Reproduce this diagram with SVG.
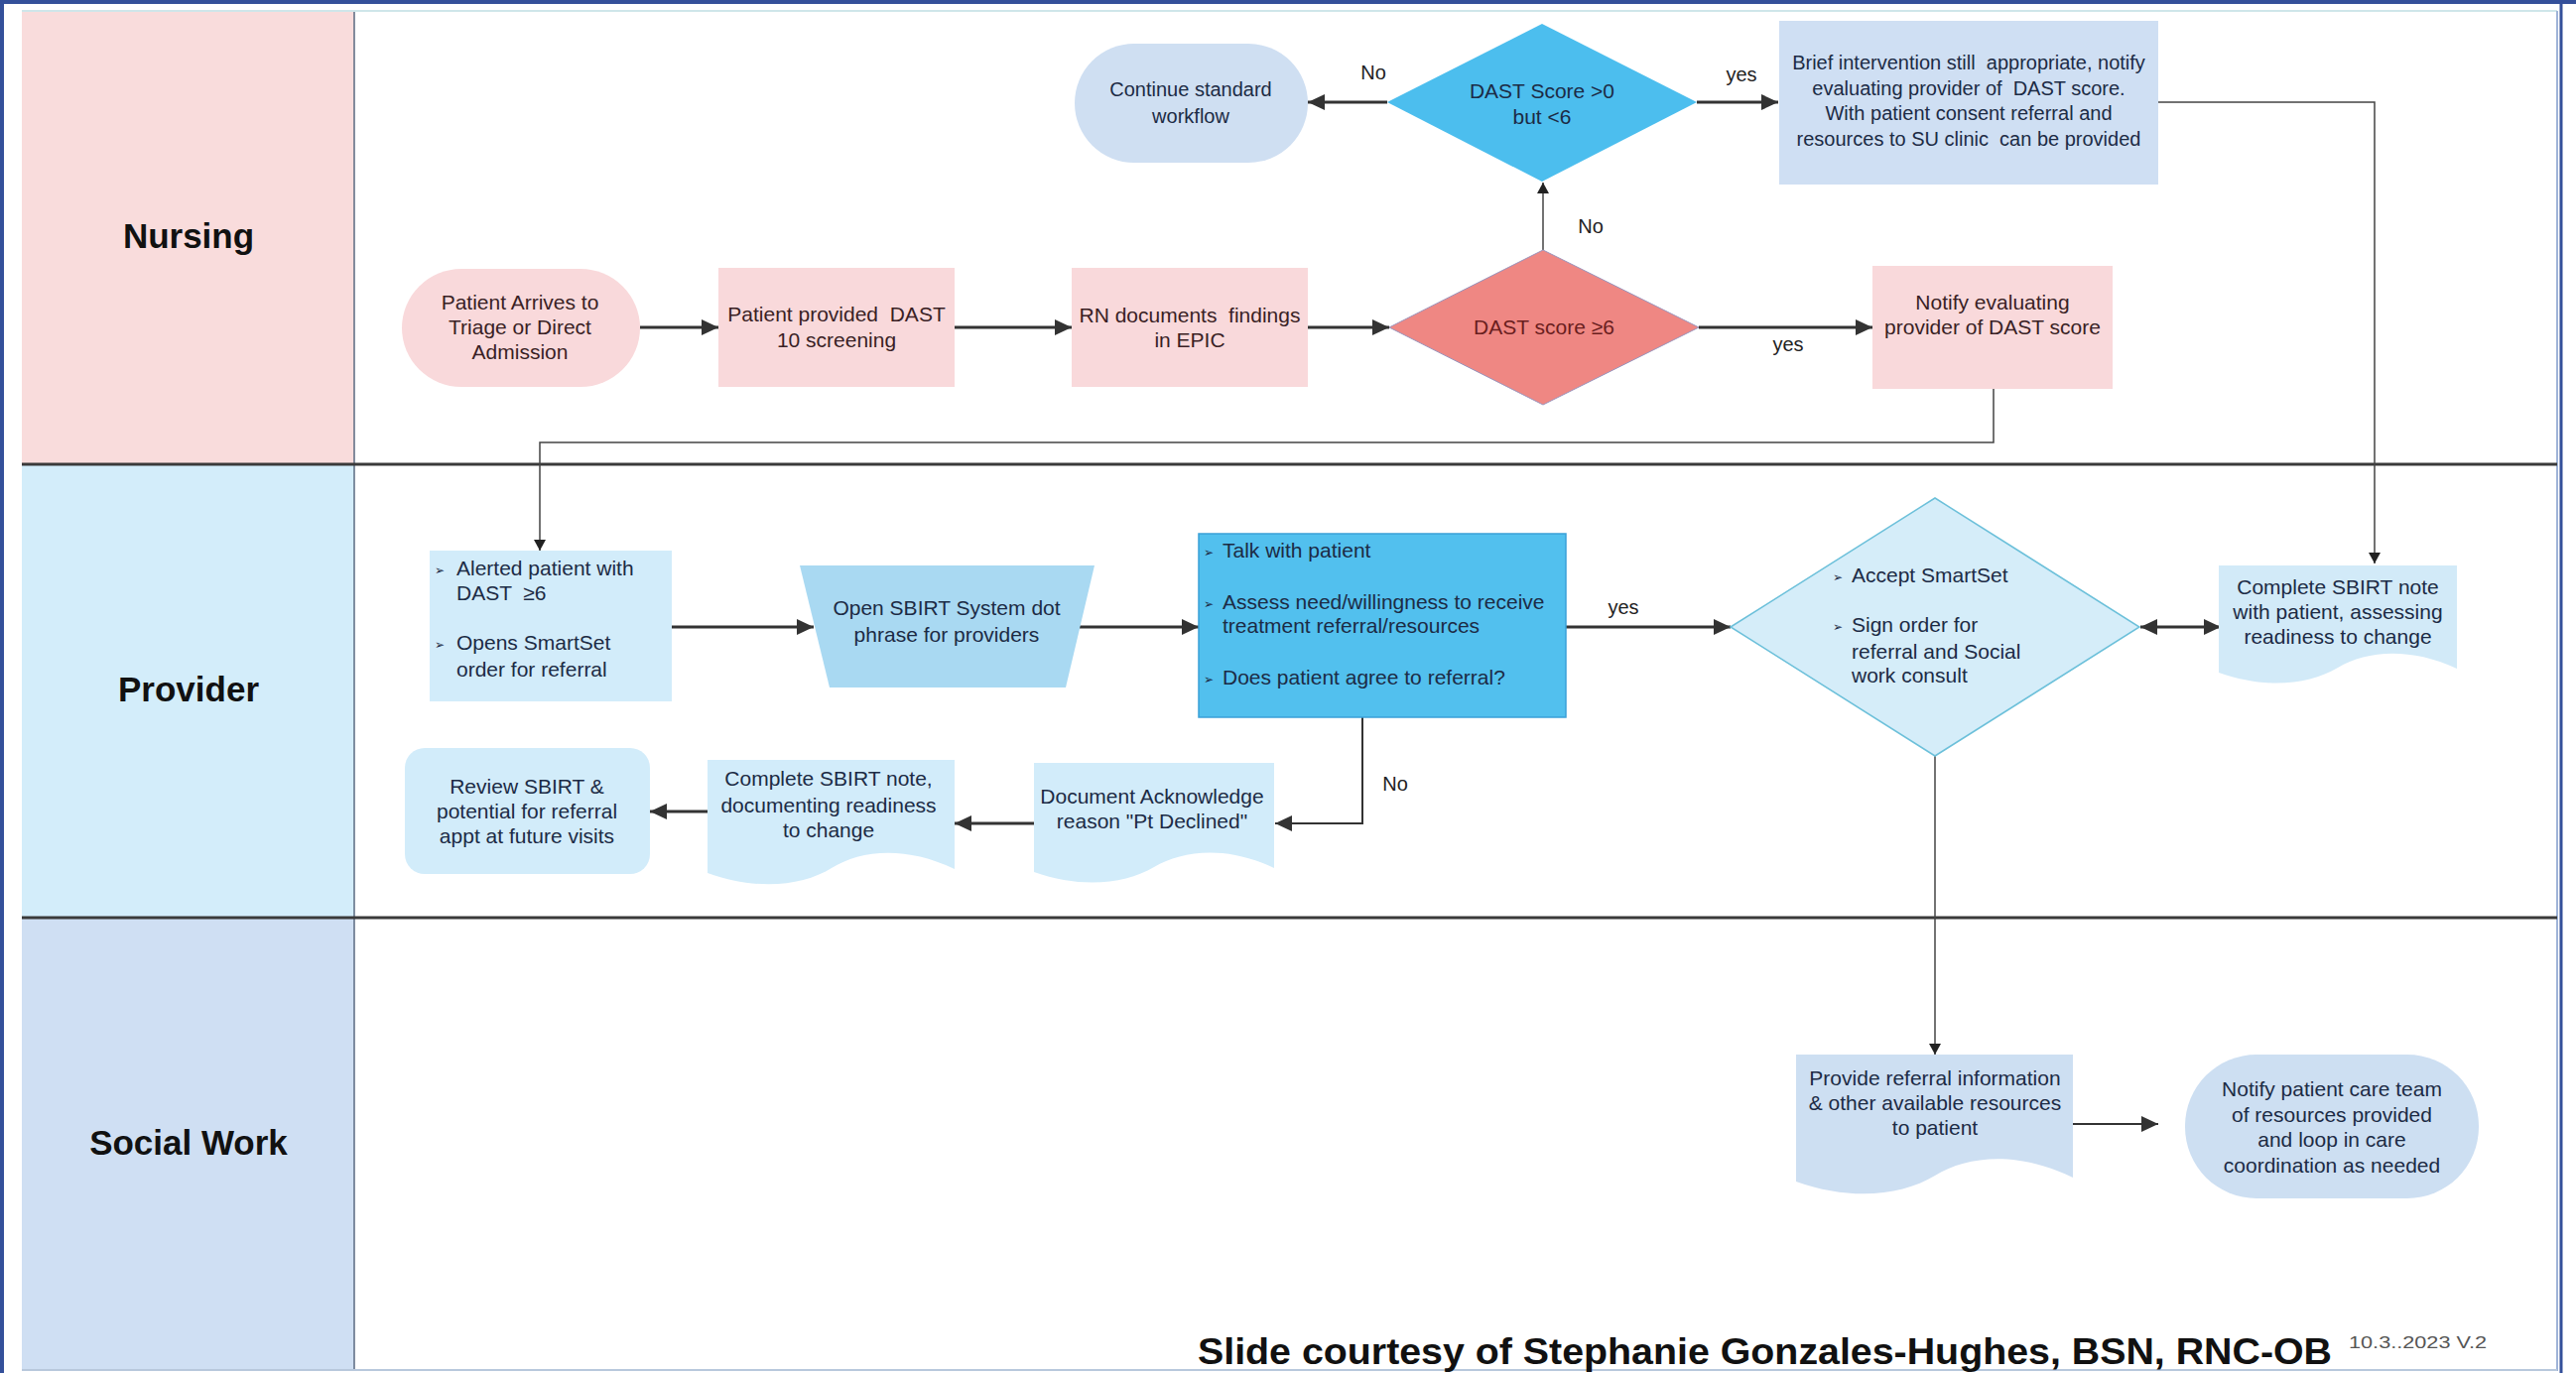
<svg xmlns="http://www.w3.org/2000/svg" width="2596" height="1384" viewBox="0 0 2596 1384">
<style>
text{font-family:"Liberation Sans",Arial,sans-serif;white-space:pre}
.lane{font-size:35px;font-weight:bold;fill:#111;text-anchor:middle}
.t{font-size:21px;fill:#1c2b45;text-anchor:middle}
.tl{font-size:21px;fill:#1c2b45}
.tp{font-size:21px;fill:#3a1f25;text-anchor:middle}
.tb{font-size:20px;fill:#1c2b45;text-anchor:middle}
.bul{font-family:"DejaVu Sans",sans-serif;font-size:12px;fill:#1c2b45}
.lbl{font-size:20px;fill:#222;text-anchor:middle}
.pink{fill:#f9d9db}
.blue{fill:#d2ecfa}
.sw{fill:#cddff2}
.c{fill:none;stroke:#333;stroke-width:3}
.cn{fill:none;stroke:#444;stroke-width:1.5}
</style>
<defs>
<marker id="ah" markerUnits="userSpaceOnUse" markerWidth="18" markerHeight="16" refX="17" refY="8" orient="auto-start-reverse"><path d="M0,0 L17,8 L0,16 Z" fill="#333"/></marker>
<marker id="ahs" markerUnits="userSpaceOnUse" markerWidth="12" markerHeight="16" refX="11" refY="6" orient="auto"><path d="M0,0 L11,6 L0,12 Z" fill="#222"/></marker>
</defs>
<rect x="0" y="0" width="2596" height="1384" fill="#fff"/>
<g id="frame">
<rect x="22" y="11" width="335" height="457" fill="#f9dcdc"/>
<rect x="22" y="468" width="335" height="457" fill="#d3edfa"/>
<rect x="22" y="925" width="335" height="457" fill="#cfdff3"/>
<line x1="357" y1="11" x2="357" y2="1382" stroke="#5a6a80" stroke-width="1.5"/>
<line x1="22" y1="11" x2="2577" y2="11" stroke="#cfe6ea" stroke-width="2"/>
<line x1="2577" y1="11" x2="2577" y2="1382" stroke="#9fb4d8" stroke-width="2"/>
<line x1="22" y1="1381" x2="2577" y2="1381" stroke="#b8c8dc" stroke-width="2"/>
<line x1="22" y1="468" x2="2577" y2="468" stroke="#3a3a3a" stroke-width="3"/>
<line x1="22" y1="925" x2="2577" y2="925" stroke="#3a3a3a" stroke-width="3"/>
<line x1="2" y1="0" x2="2" y2="1384" stroke="#34509a" stroke-width="4"/>
<line x1="0" y1="2" x2="2596" y2="2" stroke="#34509a" stroke-width="4"/>
<line x1="2581" y1="0" x2="2581" y2="1384" stroke="#34509a" stroke-width="3"/>
<text class="lane" x="190" y="250">Nursing</text>
<text class="lane" x="190" y="707">Provider</text>
<text class="lane" x="190" y="1164">Social Work</text>
</g>
<g id="connectors">
<path class="c" d="M645,330 H724" marker-end="url(#ah)"/>
<path class="c" d="M962,330 H1080" marker-end="url(#ah)"/>
<path class="c" d="M1318,330 H1400" marker-end="url(#ah)"/>
<path class="c" d="M1712,330 H1887" marker-end="url(#ah)"/>
<path class="cn" d="M1555,252 V184" marker-end="url(#ahs)"/>
<path class="c" d="M1398,103 H1318" marker-end="url(#ah)"/>
<path class="c" d="M1710,103 H1792" marker-end="url(#ah)"/>
<path class="cn" d="M2175,103 H2393 V568" marker-end="url(#ahs)"/>
<path class="cn" d="M2009,392 V446 H544 V555" marker-end="url(#ahs)"/>
<path class="c" d="M677,632 H820" marker-end="url(#ah)"/>
<path class="c" d="M1088,632 H1208" marker-end="url(#ah)"/>
<path class="c" d="M1578,632 H1744" marker-end="url(#ah)"/>
<path class="c" d="M2157,632 H2238" marker-start="url(#ah)" marker-end="url(#ah)"/>
<path class="c" d="M1373,723 V830 H1285" marker-end="url(#ah)" style="stroke-width:2"/>
<path class="c" d="M1042,830 H962" marker-end="url(#ah)"/>
<path class="c" d="M713,818 H655" marker-end="url(#ah)"/>
<path class="cn" d="M1950,762 V1063" marker-end="url(#ahs)"/>
<path class="c" d="M2089,1133 H2175" marker-end="url(#ah)" style="stroke-width:2"/>
<text class="lbl" x="1802" y="354">yes</text>
<text class="lbl" x="1603" y="235">No</text>
<text class="lbl" x="1384" y="80">No</text>
<text class="lbl" x="1755" y="82">yes</text>
<text class="lbl" x="1636" y="619">yes</text>
<text class="lbl" x="1406" y="797">No</text>
</g>
<g id="n-arrive">
<rect class="pink" x="405" y="271" width="240" height="119" rx="60"/>
<text class="tp" x="524" y="312">Patient Arrives to</text>
<text class="tp" x="524" y="337">Triage or Direct</text>
<text class="tp" x="524" y="362">Admission</text>
</g>
<g id="n-dast10">
<rect class="pink" x="724" y="270" width="238" height="120"/>
<text class="tp" x="843" y="324">Patient provided  DAST</text>
<text class="tp" x="843" y="350">10 screening</text>
</g>
<g id="n-rn">
<rect class="pink" x="1080" y="270" width="238" height="120"/>
<text class="tp" x="1199" y="325">RN documents  findings</text>
<text class="tp" x="1199" y="350">in EPIC</text>
</g>
<g id="n-dast6">
<polygon points="1400,330 1555,252 1712,330 1555,408" fill="#ef8783" stroke="#9a94bc" stroke-width="1"/>
<text class="tp" x="1556" y="337" style="fill:#6a1e1e">DAST score ≥6</text>
</g>
<g id="n-notify">
<rect class="pink" x="1887" y="268" width="242" height="124"/>
<text class="tp" x="2008" y="312">Notify evaluating</text>
<text class="tp" x="2008" y="337">provider of DAST score</text>
</g>
<g id="n-dast0">
<polygon points="1398,103 1554,24 1710,103 1554,183" fill="#4cbeee"/>
<text class="t" x="1554" y="99">DAST Score &gt;0</text>
<text class="t" x="1554" y="125">but &lt;6</text>
</g>
<g id="n-continue">
<rect x="1083" y="44" width="235" height="120" rx="60" fill="#cfdff2"/>
<text class="tb" x="1200" y="97">Continue standard</text>
<text class="tb" x="1200" y="124">workflow</text>
</g>
<g id="n-brief">
<rect x="1793" y="21" width="382" height="165" fill="#cfdff3"/>
<text class="tb" x="1984" y="70">Brief intervention still  appropriate, notify</text>
<text class="tb" x="1984" y="96">evaluating provider of  DAST score.</text>
<text class="tb" x="1984" y="121">With patient consent referral and</text>
<text class="tb" x="1984" y="147">resources to SU clinic  can be provided</text>
</g>
<g id="n-alerted">
<rect class="blue" x="433" y="555" width="244" height="152"/>
<text class="bul" x="438" y="579">➢</text>
<text class="tl" x="460" y="580">Alerted patient with</text>
<text class="tl" x="460" y="605">DAST  ≥6</text>
<text class="bul" x="438" y="654">➢</text>
<text class="tl" x="460" y="655">Opens SmartSet</text>
<text class="tl" x="460" y="682">order for referral</text>
</g>
<g id="n-sbirt-open">
<polygon points="806,570 1103,570 1074,693 836,693" fill="#a9d9f2"/>
<text class="t" x="954" y="620">Open SBIRT System dot</text>
<text class="t" x="954" y="647">phrase for providers</text>
</g>
<g id="n-talk">
<rect x="1208" y="538" width="370" height="185" fill="#52c0ee" stroke="#3aa0d8" stroke-width="1.5"/>
<text class="bul" x="1213" y="561">➢</text>
<text class="tl" x="1232" y="562">Talk with patient</text>
<text class="bul" x="1213" y="613">➢</text>
<text class="tl" x="1232" y="614">Assess need/willingness to receive</text>
<text class="tl" x="1232" y="638">treatment referral/resources</text>
<text class="bul" x="1213" y="689">➢</text>
<text class="tl" x="1232" y="690">Does patient agree to referral?</text>
</g>
<g id="n-accept">
<polygon points="1744,632 1950,502 2156,632 1950,762" fill="#d5edf9" stroke="#6cc0da" stroke-width="1.5"/>
<text class="bul" x="1847" y="586">➢</text>
<text class="tl" x="1866" y="587">Accept SmartSet</text>
<text class="bul" x="1847" y="636">➢</text>
<text class="tl" x="1866" y="637">Sign order for</text>
<text class="tl" x="1866" y="664">referral and Social</text>
<text class="tl" x="1866" y="688">work consult</text>
</g>
<g id="n-complete-right">
<path d="M2236 570 H2476 V674 C2428 652 2385 656 2356 673 S2284 695 2236 678 Z" fill="#d2eaf8"/>
<text class="t" x="2356" y="599">Complete SBIRT note</text>
<text class="t" x="2356" y="624">with patient, assessing</text>
<text class="t" x="2356" y="649">readiness to change</text>
</g>
<g id="n-docack">
<path d="M1042 769 H1284 V875 C1236 852 1192 857 1163 874 S1090 896 1042 879 Z" fill="#d2ecfa"/>
<text class="t" x="1161" y="810">Document Acknowledge</text>
<text class="t" x="1161" y="835">reason "Pt Declined"</text>
</g>
<g id="n-complete-doc">
<path d="M713 766 H962 V876 C912 852 867 857 838 875 S763 898 713 880 Z" fill="#d2ecfa"/>
<text class="t" x="835" y="792">Complete SBIRT note,</text>
<text class="t" x="835" y="819">documenting readiness</text>
<text class="t" x="835" y="844">to change</text>
</g>
<g id="n-review">
<rect class="blue" x="408" y="754" width="247" height="127" rx="20"/>
<text class="t" x="531" y="800">Review SBIRT &amp;</text>
<text class="t" x="531" y="825">potential for referral</text>
<text class="t" x="531" y="850">appt at future visits</text>
</g>
<g id="n-provide">
<path d="M1810 1063 H2089 V1187 C2033 1160 1983 1165 1950 1185 S1866 1211 1810 1191 Z" fill="#cddff2"/>
<text class="t" x="1950" y="1094">Provide referral information</text>
<text class="t" x="1950" y="1119">&amp; other available resources</text>
<text class="t" x="1950" y="1144">to patient</text>
</g>
<g id="n-notify-team">
<rect class="sw" x="2202" y="1063" width="296" height="145" rx="72"/>
<text class="t" x="2350" y="1105">Notify patient care team</text>
<text class="t" x="2350" y="1131">of resources provided</text>
<text class="t" x="2350" y="1156">and loop in care</text>
<text class="t" x="2350" y="1182">coordination as needed</text>
</g>
<g id="footer">
<text x="1207" y="1375" font-size="37" font-weight="bold" fill="#111" textLength="1143" lengthAdjust="spacingAndGlyphs">Slide courtesy of Stephanie Gonzales-Hughes, BSN, RNC-OB</text>
<text x="2367" y="1359" font-size="16" fill="#555" textLength="139" lengthAdjust="spacingAndGlyphs">10.3..2023 V.2</text>
</g>
</svg>
